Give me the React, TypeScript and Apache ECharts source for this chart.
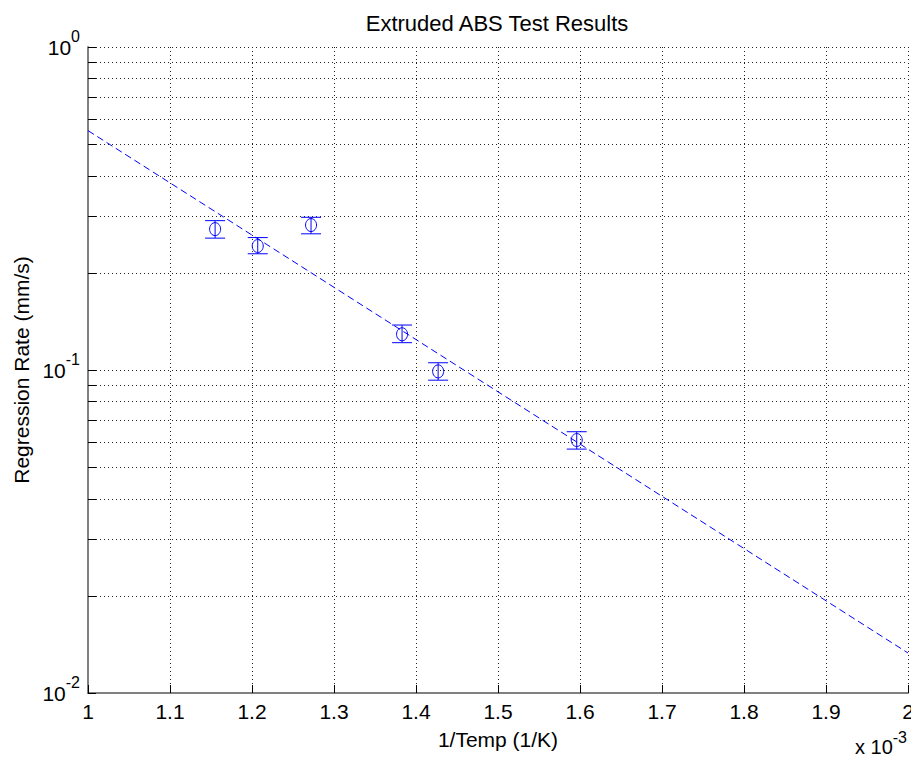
import React, { useEffect, useRef } from 'react';
import * as echarts from 'echarts';

// ---- data (x values in units of 1e-3 1/K) ----
const pointX = [1.155, 1.207, 1.272, 1.383, 1.427, 1.596];
const pointY = [0.273, 0.242, 0.281, 0.129, 0.099, 0.0607];
const errLow = [0.256, 0.229, 0.264, 0.1215, 0.093, 0.0569];
const errHigh = [0.29, 0.257, 0.297, 0.1378, 0.1053, 0.0644];
const fitX = [1, 2];
const fitY = [0.551, 0.0133];
const minorGridValues = [
  0.02, 0.03, 0.04, 0.05, 0.06, 0.07, 0.08, 0.09,
  0.2, 0.3, 0.4, 0.5, 0.6, 0.7, 0.8, 0.9,
];
const xMin = 1;
const xMax = 2;
const xStep = 0.1;
const yMin = 0.01;
const yMax = 1;
const titleText = 'Extruded ABS Test Results';
const xName = '1/Temp (1/K)';
const yName = 'Regression Rate (mm/s)';
const xScaleNote = 'x 10';
const xScaleExp = '-3';

const FONT = '"Liberation Sans", Arial, sans-serif';
const BLUE = '#0000ff';

export default function App() {
  const ref = useRef<HTMLDivElement>(null);

  useEffect(() => {
    document.body.style.margin = '0';
    if (!ref.current) return;
    const chart = echarts.init(ref.current, null, { renderer: 'svg' });

    const errData = pointX.map((x, i) => [x, pointY[i], errLow[i], errHigh[i]]);

    const option: any = {
      animation: false,
      backgroundColor: '#ffffff',
      textStyle: { fontFamily: FONT },
      grid: { left: 88, right: 3, top: 47, bottom: 65, containLabel: false, outerBoundsMode: 'none' },
      graphic: [
        {
          type: 'text',
          x: 497,
          y: 23,
          style: {
            text: titleText,
            font: `22px ${FONT}`,
            fill: '#000',
            textAlign: 'center',
            textVerticalAlign: 'middle',
          },
        },
        {
          type: 'text',
          right: 4,
          top: 729,
          style: {
            text: `{m|${xScaleNote}}{s|${xScaleExp}}`,
            fill: '#000',
            rich: {
              m: { fontSize: 20, fontFamily: FONT, color: '#000' },
              s: { fontSize: 16, fontFamily: FONT, color: '#000', padding: [0, 0, 19, 0] },
            },
          },
        },
      ],
      xAxis: {
        type: 'value',
        min: xMin,
        max: xMax,
        interval: xStep,
        name: xName,
        nameLocation: 'middle',
        nameGap: 36,
        nameTextStyle: { fontSize: 21, color: '#000', fontFamily: FONT },
        axisLine: { show: true, onZero: false, lineStyle: { color: '#808080', width: 2 } },
        axisTick: { show: true, inside: true, length: 8, lineStyle: { color: '#000', width: 1 } },
        axisLabel: {
          fontSize: 21,
          color: '#000',
          margin: 8,
          fontFamily: FONT,
          hideOverlap: false,
          formatter: (v: number) => {
            const r = Math.round(v * 10) / 10;
            return Number.isInteger(r) ? String(r) : r.toFixed(1);
          },
        },
        splitLine: { show: true, lineStyle: { color: '#222', type: [1, 3], width: 1 } },
      },
      yAxis: {
        type: 'log',
        logBase: 10,
        min: yMin,
        max: yMax,
        name: yName,
        nameLocation: 'middle',
        nameGap: 54,
        nameTextStyle: { fontSize: 21, color: '#000', fontFamily: FONT },
        axisLine: { show: true, lineStyle: { color: '#808080', width: 2 } },
        axisTick: { show: true, inside: true, length: 8, lineStyle: { color: '#000', width: 1 } },
        axisLabel: {
          margin: 8,
          color: '#000',
          formatter: (v: number) => {
            const e = Math.round(Math.log10(v));
            return `{m|10}{s|${e}}`;
          },
          rich: {
            m: { fontSize: 21, fontFamily: FONT, color: '#000' },
            s: { fontSize: 16, fontFamily: FONT, color: '#000', padding: [0, 0, 21, 0] },
          },
        },
        splitLine: { show: true, lineStyle: { color: '#222', type: [1, 3], width: 1 } },
      },
      series: [
        {
          type: 'custom',
          name: 'minorGrid',
          z: 1,
          silent: true,
          data: minorGridValues.map((v) => [xMin, v]),
          encode: { x: 0, y: 1 },
          renderItem: (params: any, api: any) => {
            const v = api.value(1);
            const p1 = api.coord([xMin, v]);
            const p2 = api.coord([xMax, v]);
            const y = Math.round(p1[1]) + 0.5;
            return {
              type: 'group',
              children: [
                {
                  type: 'line',
                  shape: { x1: p1[0], y1: y, x2: p2[0], y2: y },
                  style: { stroke: '#222', lineWidth: 1, lineDash: [1, 3] },
                },
                {
                  type: 'line',
                  shape: { x1: p1[0], y1: y, x2: p1[0] + 8, y2: y },
                  style: { stroke: '#000', lineWidth: 1 },
                },
              ],
            };
          },
        },
        {
          type: 'line',
          name: 'fit',
          z: 3,
          data: fitX.map((x, i) => [x, fitY[i]]),
          showSymbol: false,
          symbol: 'none',
          lineStyle: { color: BLUE, width: 1, type: [7, 4] },
        },
        {
          type: 'custom',
          name: 'data',
          z: 4,
          data: errData,
          encode: { x: 0, y: 1 },
          renderItem: (params: any, api: any) => {
            const x = api.value(0);
            const c = api.coord([x, api.value(1)]);
            const lo = api.coord([x, api.value(2)]);
            const hi = api.coord([x, api.value(3)]);
            const cap = 10;
            const st = { stroke: BLUE, lineWidth: 1, fill: 'none' };
            return {
              type: 'group',
              children: [
                { type: 'line', shape: { x1: c[0], y1: lo[1], x2: c[0], y2: hi[1] }, style: st },
                { type: 'line', shape: { x1: c[0] - cap, y1: lo[1], x2: c[0] + cap, y2: lo[1] }, style: st },
                { type: 'line', shape: { x1: c[0] - cap, y1: hi[1], x2: c[0] + cap, y2: hi[1] }, style: st },
                { type: 'ellipse', shape: { cx: c[0], cy: c[1], rx: 5.5, ry: 6.5 }, style: st },
              ],
            };
          },
        },
      ],
    };

    chart.setOption(option);
    return () => chart.dispose();
  }, []);

  return <div ref={ref} style={{ width: 911, height: 758 }} />;
}
